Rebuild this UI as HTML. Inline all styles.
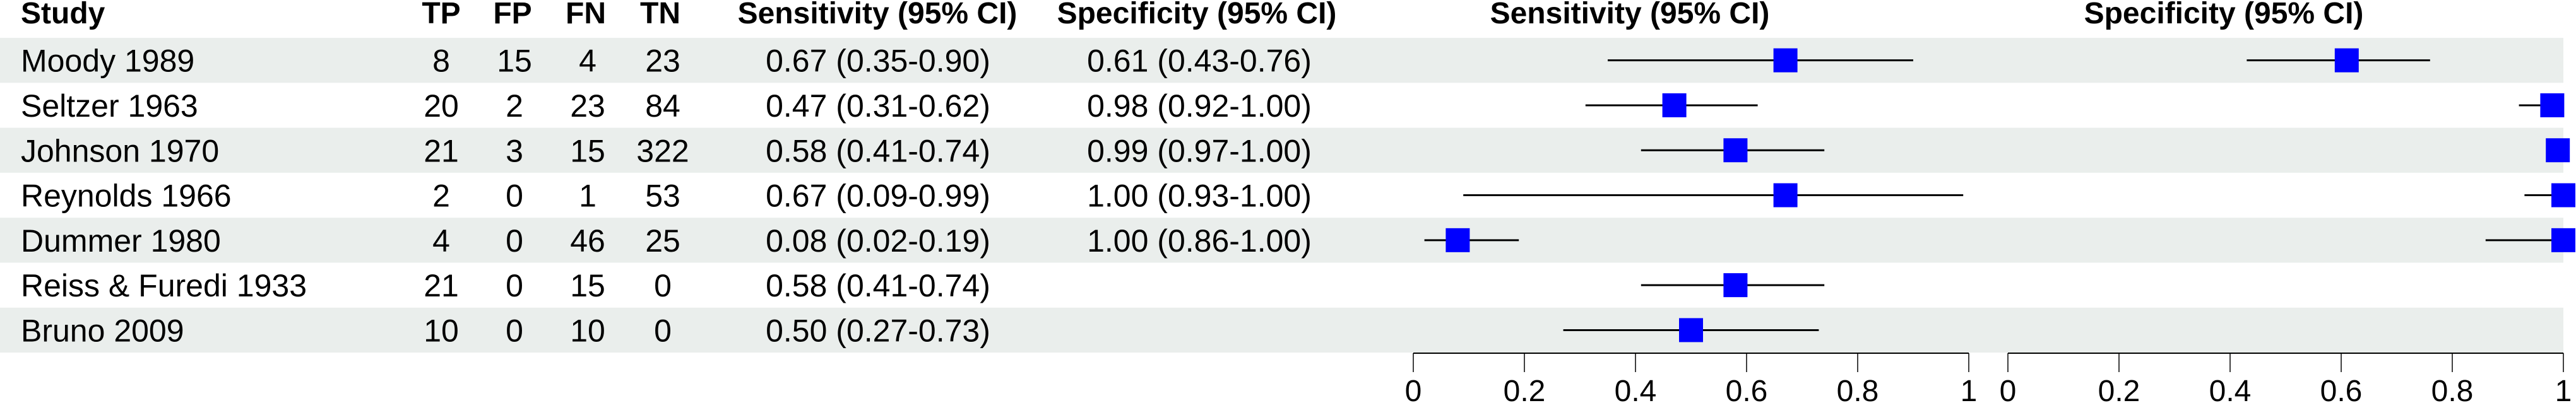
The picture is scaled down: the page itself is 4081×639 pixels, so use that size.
<!DOCTYPE html>
<html><head><meta charset="utf-8"><style>
html,body{margin:0;padding:0;background:#fff;}
svg{display:block;font-family:"Liberation Sans",Arial,sans-serif;}
</style></head><body>
<svg id="chart" width="4081" height="639" viewBox="0 0 4081 639" xmlns="http://www.w3.org/2000/svg"></svg>
<script>
const studies=["Moody 1989","Seltzer 1963","Johnson 1970","Reynolds 1966","Dummer 1980","Reiss & Furedi 1933","Bruno 2009"];
const tp=[8,20,21,2,4,21,10];
const fp=[15,2,3,0,0,0,0];
const fn=[4,23,15,1,46,15,10];
const tn=[23,84,322,53,25,0,0];
const sens=[0.67,0.47,0.58,0.67,0.08,0.58,0.50];
const sensLo=[0.35,0.31,0.41,0.09,0.02,0.41,0.27];
const sensHi=[0.90,0.62,0.74,0.99,0.19,0.74,0.73];
const spec=[0.61,0.98,0.99,1.00,1.00,null,null];
const specLo=[0.43,0.92,0.97,0.93,0.86,null,null];
const specHi=[0.76,1.00,1.00,1.00,1.00,null,null];
const ticks=[0,0.2,0.4,0.6,0.8,1];
const tickLabels=["0","0.2","0.4","0.6","0.8","1"];

const NS="http://www.w3.org/2000/svg";
const svg=document.getElementById('chart');
const top0=60,rowH=71.3;
const sx=v=>2239+v*880;
const px=v=>3181+v*880;
const rowY=i=>top0+i*rowH+rowH/2;
function mk(tag,attrs,parent){const e=document.createElementNS(NS,tag);for(const k in attrs)e.setAttribute(k,attrs[k]);(parent||svg).appendChild(e);return e;}
function txt(s,x,y,anchor,bold,name,size){const t=mk('text',{x:x,y:y,'text-anchor':anchor,'font-size':size||50,'font-weight':bold?'bold':'normal',fill:'#000'});t.textContent=s;


return t;}
const f2=v=>v.toFixed(2);

studies.forEach((s,i)=>{
  if(i%2===0){const r=mk('rect',{x:0,y:top0+i*rowH,width:4061,height:rowH,fill:'#EAEEEC'});
  
  }
});
txt("Study",33,37,'start',true,'study-header',48);
txt("TP",699,37,'middle',true,'tp-header',48);
txt("FP",812,37,'middle',true,'fp-header',48);
txt("FN",928,37,'middle',true,'fn-header',48);
txt("TN",1046,37,'middle',true,'tn-header',48);
txt("Sensitivity (95% CI)",1390,37,'middle',true,'sensitivity-col-header',48);
txt("Specificity (95% CI)",1896,37,'middle',true,'specificity-col-header',48);
txt("Sensitivity (95% CI)",2582,37,'middle',true,'sensitivity-plot-title',48);
txt("Specificity (95% CI)",3523,37,'middle',true,'specificity-plot-title',48);

studies.forEach((s,i)=>{
  const y=rowY(i)+18;
  txt(s,33,y,'start',false,'study-name');
  txt(String(tp[i]),699,y,'middle',false,'tp-value');
  txt(String(fp[i]),815,y,'middle',false,'fp-value');
  txt(String(fn[i]),931,y,'middle',false,'fn-value');
  txt(String(tn[i]),1050,y,'middle',false,'tn-value');
  txt(f2(sens[i])+" ("+f2(sensLo[i])+"-"+f2(sensHi[i])+")",1391,y,'middle',false,'sensitivity-value');
  if(spec[i]!==null) txt(f2(spec[i])+" ("+f2(specLo[i])+"-"+f2(specHi[i])+")",1900,y,'middle',false,'specificity-value');
  const cy=rowY(i);
  let l=mk('line',{x1:sx(sensLo[i]),x2:sx(sensHi[i]),y1:cy,y2:cy,stroke:'#000','stroke-width':3});
  
  
  let r=mk('rect',{x:sx(sens[i])-19,y:cy-19,width:38,height:38,fill:'#0000FF'});
  
  
  if(spec[i]!==null){
    l=mk('line',{x1:px(specLo[i]),x2:px(specHi[i]),y1:cy,y2:cy,stroke:'#000','stroke-width':3});
    
    
    r=mk('rect',{x:px(spec[i])-19,y:cy-19,width:38,height:38,fill:'#0000FF'});
    
    
  }
});

[[sx,'sensitivity'],[px,'specificity']].forEach(([f,n])=>{
  const a=mk('line',{x1:f(0),x2:f(1),y1:560,y2:560,stroke:'#000','stroke-width':2});
  
  
  ticks.forEach((t,k)=>{
    const tl=mk('line',{x1:f(t),x2:f(t),y1:560,y2:590,stroke:'#000','stroke-width':1.5});
    
    
    txt(tickLabels[k],f(t),636,'middle',false,n+'-tick-label',48);
  });
});
</script>
</body></html>
